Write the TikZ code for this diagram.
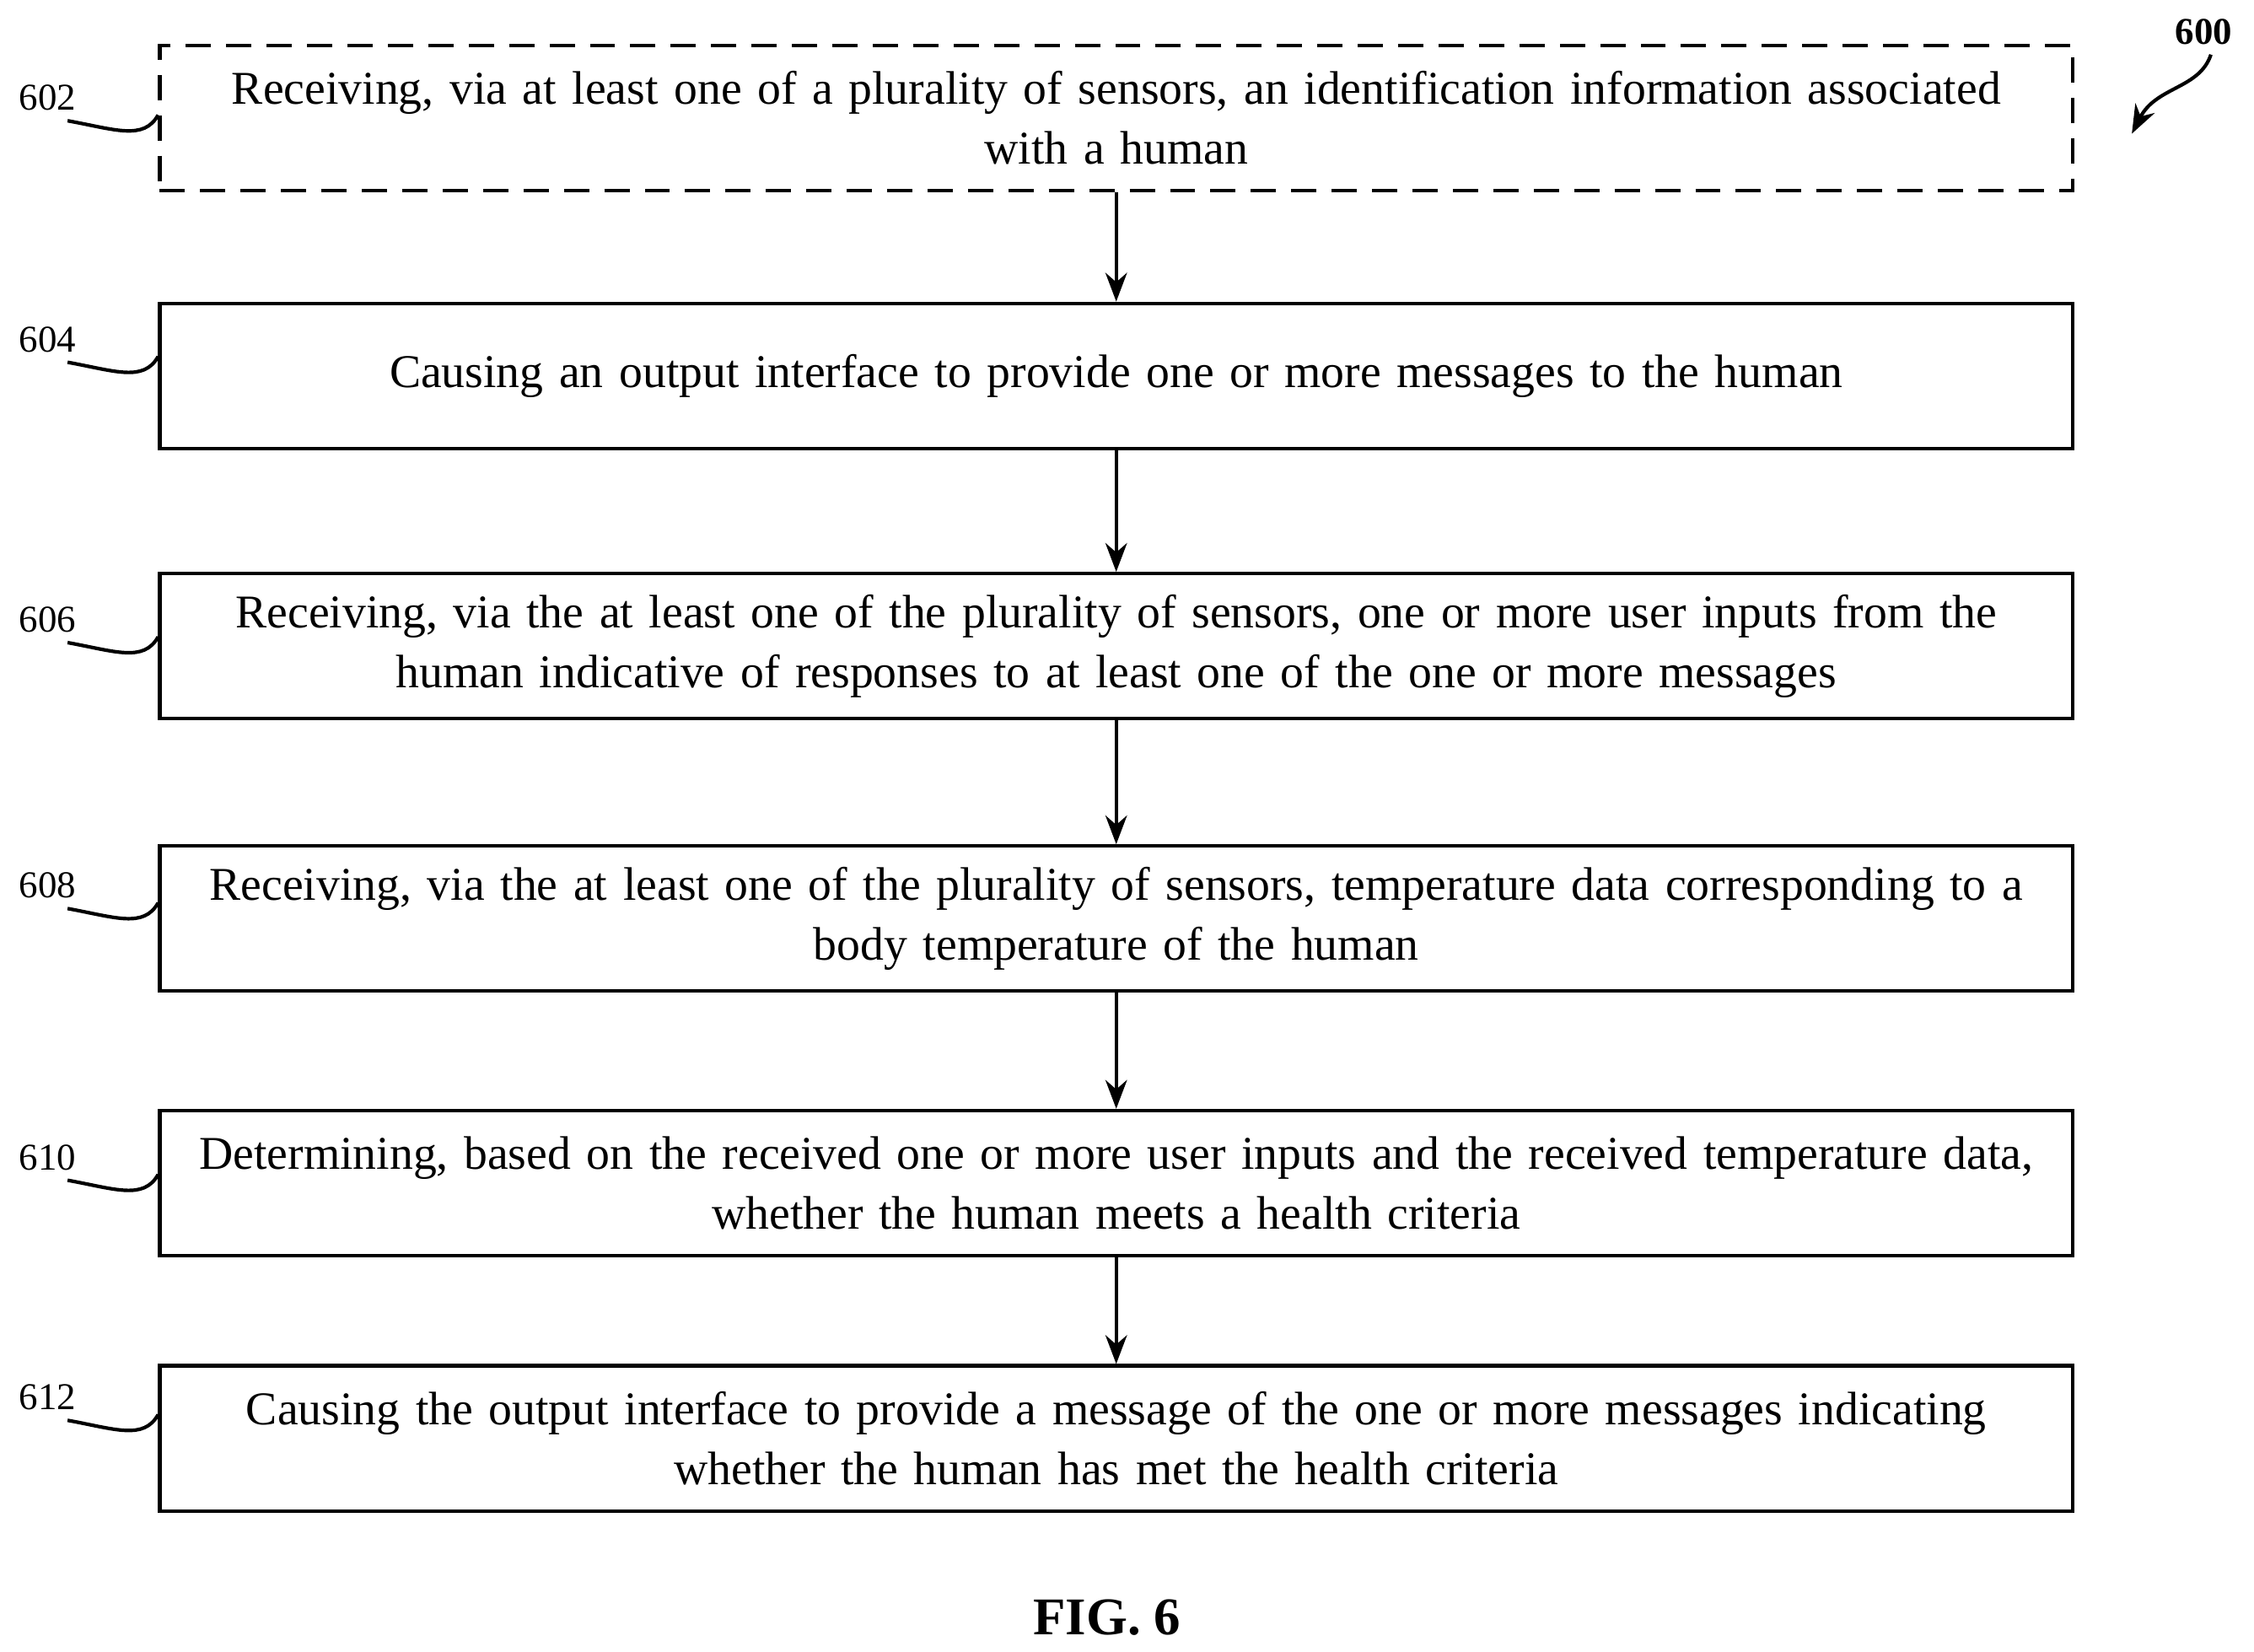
\documentclass[tikz,border=0pt]{standalone}
\usepackage{fontspec}
\setmainfont{Liberation Serif}
\usetikzlibrary{arrows.meta}
\begin{document}
\begin{tikzpicture}[x=0.02cm, y=-0.02cm]
  \tikzset{stepbox/.style={draw, line width=1.4pt, minimum width=26.62cm, minimum height=2.02cm, align=center, text width=26.4cm, font=\fontsize{18.6}{23.5}\selectfont, inner sep=0pt}}
  \tikzset{flow arrow/.style={draw, line width=1.4pt, -{Stealth[length=4mm,width=3mm]}}}
  \tikzset{lead/.style={draw, line width=1.4pt}}
  \tikzset{tag/.style={font=\fontsize{15}{17}\selectfont, inner sep=0pt}}
  \useasboundingbox (0,0) rectangle (1568,1148.6);

  \node[stepbox, dashed, dash pattern=on 10pt off 6pt] (s602) at (776.5,82) {Receiving, via at least one of a plurality of sensors, an identification information associated\\with a human};
  \node[stepbox] (s604) at (776.5,261.5) {Causing an output interface to provide one or more messages to the human};
  \node[stepbox] (s606) at (776.5,449.5) {Receiving, via the at least one of the plurality of sensors, one or more user inputs from the\\human indicative of responses to at least one of the one or more messages};
  \node[stepbox] (s608) at (776.5,639) {Receiving, via the at least one of the plurality of sensors, temperature data corresponding to a\\body temperature of the human};
  \node[stepbox] (s610) at (776.5,823) {Determining, based on the received one or more user inputs and the received temperature data,\\whether the human meets a health criteria};
  \node[stepbox] (s612) at (776.5,1000.5) {Causing the output interface to provide a message of the one or more messages indicating\\whether the human has met the health criteria};

  \foreach \a/\b in {s602/s604, s604/s606, s606/s608, s608/s610, s610/s612}
    \path[flow arrow] (\a) -- (\b);

  % reference numerals
  \foreach \n/\y in {602/68, 604/236, 606/431, 608/616, 610/805, 612/972} {
    \node[tag] (t\n) at (33,\y) {\n};
    \path[lead] (47,\y+16) .. controls (80,\y+22) and (100,\y+30) .. (110,\y+12);
  }

  \node[font=\fontsize{15}{17}\selectfont\bfseries, inner sep=0pt] (fig600) at (1533,22) {600};
  \coordinate (a600) at (1483,93);
  \path[draw, line width=1.4pt, -{Stealth[length=4mm,width=3mm]}] (1538,38) .. controls (1530,62) and (1500,60) .. (a600);

  \node[font=\fontsize{21}{25}\selectfont\bfseries] (fig) at (770,1125) {FIG. 6};
\end{tikzpicture}
\end{document}
